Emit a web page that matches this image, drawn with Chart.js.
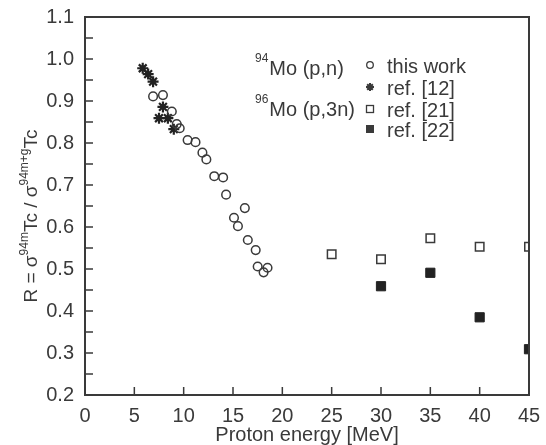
<!DOCTYPE html>
<html>
<head>
<meta charset="utf-8">
<script src="https://cdn.jsdelivr.net/npm/chart.js@4.4.1/dist/chart.umd.min.js"></script>
<style>
  html, body { margin: 0; padding: 0; background: #fff; }
  #wrap { width: 546px; height: 445px; }
</style>
</head>
<body>
<div id="wrap"><canvas id="ratioChart" width="546" height="445"></canvas></div>
<script>
// isomeric ratio 94mTc / (94m+g)Tc vs proton energy
const xTicks = [0, 5, 10, 15, 20, 25, 30, 35, 40, 45];
const yTicks = [0.2, 0.3, 0.4, 0.5, 0.6, 0.7, 0.8, 0.9, 1.0, 1.1];

// 94Mo(p,n) this work
const thisWorkE = [6.9, 7.9, 8.8, 9.3, 9.6, 10.4, 11.2, 11.9, 12.3, 13.1, 14.0, 14.3, 15.1, 15.5, 16.2, 16.5, 17.3, 17.5, 18.1, 18.5];
const thisWorkR = [0.911, 0.914, 0.875, 0.845, 0.835, 0.807, 0.802, 0.777, 0.761, 0.721, 0.718, 0.677, 0.622, 0.602, 0.645, 0.569, 0.545, 0.506, 0.492, 0.503];

// 94Mo(p,n) ref. [12]
const ref12E = [5.85, 6.4, 6.9, 7.9, 7.5, 8.4, 9.0];
const ref12R = [0.978, 0.964, 0.946, 0.886, 0.859, 0.859, 0.833];

// 96Mo(p,3n) ref. [21] and ref. [22]
const ref21E = [25, 30, 35, 40, 45];
const ref21R = [0.535, 0.523, 0.573, 0.553, 0.553];
const ref22E = [30, 35, 40, 45];
const ref22R = [0.459, 0.491, 0.385, 0.309];

const ink = '#3a3a3a';
const fontFam = '"Liberation Sans", Arial, sans-serif';

function toPoints(xs, ys) {
  return xs.map((x, i) => ({ x: x, y: ys[i] }));
}

// clip the marks to the axis box (points at 45 MeV are cut in half)
const clipPlugin = {
  id: 'clipPlugin',
  beforeDatasetsDraw(chart) {
    const a = chart.chartArea;
    chart.ctx.save();
    chart.ctx.beginPath();
    chart.ctx.rect(a.left, a.top - 2, a.right - a.left, a.bottom - a.top + 4);
    chart.ctx.clip();
  },
  afterDatasetsDraw(chart) {
    chart.ctx.restore();
  }
};

// box, inward ticks, axis titles and the text legend
const framePlugin = {
  id: 'framePlugin',
  afterDraw(chart) {
    const ctx = chart.ctx;
    const a = chart.chartArea;
    const xs = chart.scales.x, ys = chart.scales.y;
    ctx.save();
    ctx.strokeStyle = ink;
    ctx.lineWidth = 2;
    ctx.strokeRect(a.left, a.top, a.right - a.left, a.bottom - a.top);

    ctx.lineWidth = 1.5;
    ctx.beginPath();
    xTicks.forEach(v => {
      const px = xs.getPixelForValue(v);
      ctx.moveTo(px, a.bottom);
      ctx.lineTo(px, a.bottom - 8);
    });
    for (let i = 0; i < yTicks.length; i++) {
      let py = ys.getPixelForValue(yTicks[i]);
      ctx.moveTo(a.left, py);
      ctx.lineTo(a.left + 8, py);
      if (i < yTicks.length - 1) {
        py = ys.getPixelForValue((yTicks[i] + yTicks[i + 1]) / 2);
        ctx.moveTo(a.left, py);
        ctx.lineTo(a.left + 8, py);
      }
    }
    ctx.stroke();

    ctx.fillStyle = ink;
    // x title
    ctx.font = '20px ' + fontFam;
    ctx.textAlign = 'center';
    ctx.textBaseline = 'alphabetic';
    ctx.fillText('Proton energy [MeV]', (a.left + a.right) / 2, 441);

    // y title with superscripts
    const parts = [
      ['R = σ', false], ['94m', true], ['Tc / σ', false], ['94m+g', true], ['Tc', false]
    ];
    const mainFont = '19px ' + fontFam, supFont = '12px ' + fontFam;
    let total = 0;
    parts.forEach(p => { ctx.font = p[1] ? supFont : mainFont; total += ctx.measureText(p[0]).width; });
    ctx.translate(37, 216);
    ctx.rotate(-Math.PI / 2);
    ctx.textAlign = 'left';
    let cx = -total / 2;
    parts.forEach(p => {
      ctx.font = p[1] ? supFont : mainFont;
      ctx.fillText(p[0], cx, p[1] ? -9 : 0);
      cx += ctx.measureText(p[0]).width;
    });
    ctx.setTransform(1, 0, 0, 1, 0, 0);

    // legend
    const rows = [
      { pre: '94', lab: 'Mo (p,n)', y: 75 },
      { pre: '96', lab: 'Mo (p,3n)', y: 116 }
    ];
    rows.forEach(r => {
      ctx.font = '12px ' + fontFam;
      ctx.fillText(r.pre, 255, r.y - 13);
      const w = ctx.measureText(r.pre).width;
      ctx.font = '20px ' + fontFam;
      ctx.fillText(r.lab, 256 + w, r.y);
    });
    const entries = [
      { text: 'this work', y: 73, mark: 'circle' },
      { text: 'ref. [12]', y: 95, mark: 'star' },
      { text: 'ref. [21]', y: 117, mark: 'open' },
      { text: 'ref. [22]', y: 137, mark: 'filled' }
    ];
    entries.forEach(e => {
      ctx.font = '20px ' + fontFam;
      ctx.fillStyle = ink;
      ctx.fillText(e.text, 387, e.y);
      const mx = 370, my = e.y - 8;
      ctx.lineWidth = 1.3;
      ctx.beginPath();
      if (e.mark === 'circle') {
        ctx.arc(mx, my, 3.3, 0, Math.PI * 2);
        ctx.stroke();
      } else if (e.mark === 'star') {
        for (let k = 0; k < 4; k++) {
          const ang = k * Math.PI / 4;
          ctx.moveTo(mx - 4 * Math.cos(ang), my - 4 * Math.sin(ang));
          ctx.lineTo(mx + 4 * Math.cos(ang), my + 4 * Math.sin(ang));
        }
        ctx.lineWidth = 2;
        ctx.stroke();
      } else if (e.mark === 'open') {
        ctx.strokeRect(mx - 3.5, my - 3.5, 7, 7);
      } else {
        ctx.fillRect(mx - 4, my - 4, 8, 8);
      }
    });
    ctx.restore();
  }
};

const ctx = document.getElementById('ratioChart').getContext('2d');
new Chart(ctx, {
  type: 'scatter',
  data: {
    datasets: [
      {
        label: 'this work',
        data: toPoints(thisWorkE, thisWorkR),
        pointStyle: 'circle',
        pointRadius: 4.3,
        borderWidth: 1.5,
        borderColor: ink,
        backgroundColor: 'rgba(255,255,255,0)',
        clip: false
      },
      {
        label: 'ref. [12]',
        data: toPoints(ref12E, ref12R),
        pointStyle: 'star',
        pointRadius: 5.5,
        borderWidth: 2.2,
        borderColor: '#222',
        backgroundColor: '#222',
        clip: false
      },
      {
        label: 'ref. [21]',
        data: toPoints(ref21E, ref21R),
        pointStyle: 'rect',
        pointRadius: 6,
        borderWidth: 1.5,
        borderColor: ink,
        backgroundColor: '#ffffff',
        clip: false
      },
      {
        label: 'ref. [22]',
        data: toPoints(ref22E, ref22R),
        pointStyle: 'rect',
        pointRadius: 6.5,
        borderWidth: 1,
        borderColor: '#222',
        backgroundColor: '#222',
        clip: false
      }
    ]
  },
  options: {
    responsive: false,
    animation: false,
    layout: { padding: { top: 17, right: 17, left: 0, bottom: 0 } },
    plugins: {
      legend: { display: false },
      tooltip: { enabled: false }
    },
    scales: {
      x: {
        type: 'linear',
        min: 0,
        max: 45,
        afterBuildTicks: s => { s.ticks = xTicks.map(v => ({ value: v })); },
        afterFit: s => { s.height = 50; },
        grid: { display: false },
        border: { display: false },
        ticks: {
          color: ink,
          padding: 1,
          maxRotation: 0,
          autoSkip: false,
          font: { family: fontFam, size: 20 },
          callback: v => String(v)
        }
      },
      y: {
        type: 'linear',
        min: 0.2,
        max: 1.1,
        afterBuildTicks: s => { s.ticks = yTicks.map(v => ({ value: v })); },
        afterFit: s => { s.width = 85; },
        grid: { display: false },
        border: { display: false },
        ticks: {
          color: ink,
          padding: 3,
          autoSkip: false,
          font: { family: fontFam, size: 20 },
          callback: v => v.toFixed(1)
        }
      }
    }
  },
  plugins: [clipPlugin, framePlugin]
});
</script>
</body>
</html>
